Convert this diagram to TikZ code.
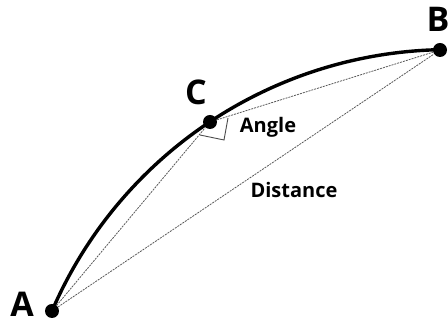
\documentclass[tikz,border=0pt]{standalone}
\usepackage{fontspec}
\setmainfont{Open Sans}
\begin{document}
\begin{tikzpicture}[x=1pt,y=1pt,
  dot/.style={circle,fill=black,inner sep=0pt,minimum size=14pt},
  biglabel/.style={font=\bfseries\fontsize{34}{34}\selectfont,inner sep=0pt},
  smalllabel/.style={font=\bfseries\fontsize{20}{20}\selectfont,inner sep=0pt},
  chord/.style={draw=black!65,line width=0.8pt,dash pattern=on 2pt off 1pt},
  marker/.style={draw=black!70,line width=0.9pt}]
\useasboundingbox (0,0) rectangle (448,326);
% curve (circular arc through A, C, B)
\draw[line width=3.4pt] (52,15) arc[start angle=156.7, end angle=91.2, radius=432.5];
\node[dot] (A) at (52,15) {};
\node[dot] (C) at (210,204) {};
\node[dot] (B) at (440,276) {};
\draw[chord] (A) -- (C);
\draw[chord] (A) -- (B);
\draw[chord] (C) -- (B);
\coordinate (m1) at (200,191);
\coordinate (m2) at (224,186);
\coordinate (m3) at (228,208);
\draw[marker] (m1) -- (m2) -- (m3);
\node[biglabel] (la) at (22,22) {A};
\node[biglabel] (lb) at (438,307) {B};
\node[biglabel] (lc) at (196,234) {C};
\node[smalllabel] (ang) at (268,199) {Angle};
\node[smalllabel] (dist) at (294,136) {Distance};
\end{tikzpicture}
\end{document}
